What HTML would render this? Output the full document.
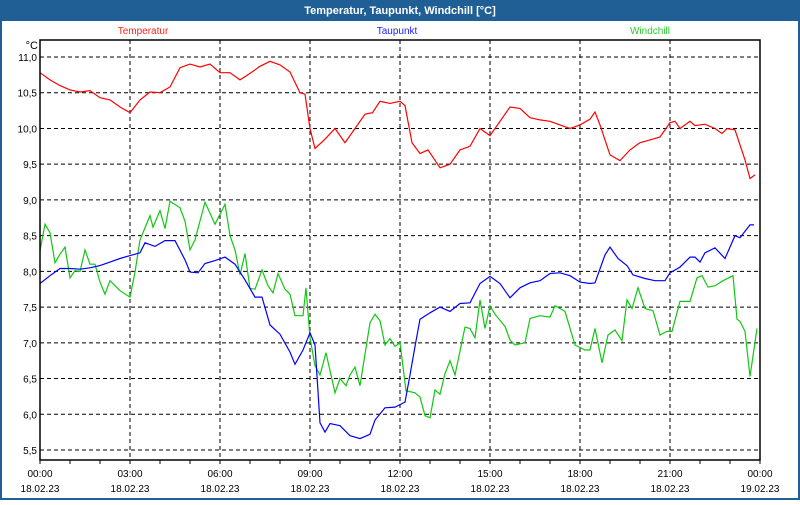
<!DOCTYPE html>
<html><head><meta charset="utf-8"><style>
body{margin:0;width:800px;height:500px;overflow:hidden;background:#fff;font-family:"Liberation Sans",sans-serif}
</style></head><body>
<svg id="c" width="800" height="500" xmlns="http://www.w3.org/2000/svg">
<rect x="0" y="0" width="800" height="500" fill="#1f5f96"/>
<rect x="2" y="21" width="796" height="477" fill="#fff"/>
<text x="400" y="14" text-anchor="middle" font-size="11" font-weight="bold" fill="#fff">Temperatur, Taupunkt, Windchill [°C]</text>
<text x="143" y="34" text-anchor="middle" font-size="10" fill="#ff2020">Temperatur</text>
<text x="397" y="34" text-anchor="middle" font-size="10" fill="#2020ff">Taupunkt</text>
<text x="650" y="34" text-anchor="middle" font-size="10" fill="#30c830">Windchill</text>
<text x="38" y="49" text-anchor="end" font-size="11" fill="#000">°C</text>
<g id="grid"></g><g id="series"></g>
<rect x="40" y="40" width="720" height="420" fill="none" stroke="#000" stroke-width="1.5"/>
<g id="axes"></g>
</svg>
<script>
const yTicks=[11.0,10.5,10.0,9.5,9.0,8.5,8.0,7.5,7.0,6.5,6.0,5.5];
const xTickLabels=["00:00","03:00","06:00","09:00","12:00","15:00","18:00","21:00","00:00"];
const xDateLabels=["18.02.23","18.02.23","18.02.23","18.02.23","18.02.23","18.02.23","18.02.23","18.02.23","19.02.23"];
const tempMin=[0,20,40,60,80,100,120,140,160,180,200,220,240,260,280,300,320,340,360,380,400,420,440,460,480,500,520,530,540,550,570,590,610,630,650,665,680,700,720,730,744,760,776,800,820,840,860,880,900,920,940,960,980,1000,1020,1040,1060,1080,1100,1110,1120,1140,1160,1180,1200,1220,1240,1250,1260,1270,1280,1300,1310,1330,1350,1364,1374,1390,1410,1420,1430];
const tempVal=[10.78,10.68,10.6,10.54,10.51,10.53,10.43,10.4,10.3,10.22,10.4,10.51,10.5,10.58,10.85,10.9,10.86,10.9,10.78,10.78,10.68,10.77,10.87,10.94,10.89,10.79,10.5,10.48,10.0,9.72,9.85,10.0,9.8,10.0,10.2,10.22,10.38,10.35,10.38,10.32,9.8,9.65,9.7,9.45,9.5,9.7,9.75,10.0,9.9,10.1,10.3,10.28,10.15,10.12,10.1,10.05,10.0,10.05,10.13,10.23,10.05,9.63,9.55,9.7,9.8,9.84,9.88,9.98,10.08,10.1,10.0,10.1,10.04,10.06,10.0,9.93,10.0,9.98,9.56,9.3,9.35];
const dewMin=[0,20,40,60,80,100,120,140,160,180,200,210,230,250,270,290,300,316,330,350,370,390,410,430,444,460,480,500,510,526,540,550,560,570,580,600,620,640,660,670,690,710,730,740,750,760,780,800,820,840,860,880,900,920,940,960,980,1000,1020,1040,1060,1080,1100,1110,1130,1140,1156,1174,1186,1210,1230,1250,1260,1280,1300,1310,1320,1330,1350,1370,1390,1400,1420,1428];
const dewVal=[7.83,7.94,8.04,8.04,8.03,8.05,8.08,8.13,8.18,8.22,8.26,8.4,8.35,8.43,8.43,8.16,7.99,7.98,8.11,8.15,8.2,8.1,7.88,7.64,7.64,7.25,7.12,6.87,6.7,6.9,7.14,6.97,5.88,5.75,5.87,5.84,5.7,5.66,5.72,5.92,6.09,6.1,6.17,6.55,6.95,7.33,7.42,7.5,7.44,7.55,7.56,7.83,7.93,7.83,7.63,7.77,7.84,7.87,7.97,7.98,7.94,7.85,7.83,7.84,8.23,8.34,8.18,8.08,7.95,7.9,7.87,7.87,7.98,8.06,8.2,8.2,8.13,8.26,8.33,8.18,8.5,8.47,8.65,8.65];
const windMin=[0,10,20,30,40,50,60,70,80,90,100,110,120,130,140,150,160,180,190,200,220,226,240,250,260,280,290,300,310,330,350,370,380,390,400,410,420,430,444,456,466,476,490,500,510,526,532,540,550,560,572,590,600,612,620,630,640,660,670,680,690,700,710,720,732,750,760,770,780,790,800,810,820,830,850,860,870,880,890,900,910,930,940,950,970,980,1000,1020,1030,1040,1050,1070,1090,1100,1110,1124,1136,1150,1164,1174,1184,1196,1210,1226,1240,1254,1264,1280,1300,1314,1324,1336,1350,1366,1386,1394,1400,1410,1420,1434];
const windVal=[8.29,8.66,8.54,8.12,8.24,8.34,7.91,8.01,8.0,8.3,8.1,8.1,7.85,7.68,7.87,7.8,7.73,7.64,7.99,8.44,8.78,8.62,8.85,8.6,8.98,8.89,8.7,8.3,8.44,8.97,8.66,8.94,8.5,8.3,7.95,8.25,7.76,7.75,8.02,7.8,7.7,7.97,7.75,7.68,7.38,7.38,7.77,7.07,6.68,6.55,6.86,6.3,6.5,6.4,6.55,6.66,6.4,7.28,7.4,7.31,6.97,7.06,6.95,7.0,6.33,6.3,6.24,5.98,5.95,6.34,6.28,6.57,6.75,6.55,7.22,7.2,7.07,7.6,7.2,7.52,7.4,7.23,7.04,6.97,7.0,7.34,7.38,7.36,7.52,7.48,7.44,6.97,6.9,6.9,7.2,6.72,7.11,7.18,7.03,7.6,7.48,7.77,7.48,7.45,7.11,7.16,7.16,7.58,7.58,7.91,7.94,7.78,7.8,7.87,7.94,7.33,7.3,7.16,6.53,7.2];
</script>
<script>
const NS="http://www.w3.org/2000/svg";
const X0=40,X1=760,YTOP=57,YBOT=450;
function xs(min){return X0+min/1440*(X1-X0);}
function ys(v){return YTOP+(11-v)/(11-5.5)*(YBOT-YTOP);}
const grid=document.getElementById('grid'),axes=document.getElementById('axes'),ser=document.getElementById('series');
function mk(tag,attrs,parent){const e=document.createElementNS(NS,tag);for(const k in attrs)e.setAttribute(k,attrs[k]);parent.appendChild(e);return e;}
yTicks.forEach(v=>{
  const l=mk('line',{x1:X0,x2:X1,y1:ys(v),y2:ys(v),stroke:'#000','stroke-dasharray':'4,3'},grid);
  
  
  const t=mk('text',{x:37,y:ys(v)+4,'text-anchor':'end','font-size':'10',fill:'#000'},axes);
  t.textContent=v.toFixed(1).replace('.',',');
  
  
});
xTickLabels.forEach((lab,i)=>{
  const x=xs(i*180);
  if(i>0&&i<8){const l=mk('line',{x1:x,x2:x,y1:40,y2:460,stroke:'#000','stroke-dasharray':'4,3'},grid);
    
    }
  const t=mk('text',{x:x,y:477,'text-anchor':'middle','font-size':'10',fill:'#000'},axes);
  t.textContent=lab;
  
  
  const d=mk('text',{x:x,y:492,'text-anchor':'middle','font-size':'10',fill:'#000'},axes);
  d.textContent=xDateLabels[i];
  
  
});
for(let m=0;m<=1440;m+=60){const tk=mk('line',{x1:xs(m),x2:xs(m),y1:460,y2:464,stroke:'#000'},axes);
  
  }
function line(mins,vals,color,name){
  const n=Math.min(mins.length,vals.length);
  const pts=[];for(let i=0;i<n;i++)pts.push(xs(mins[i]).toFixed(1)+','+ys(vals[i]).toFixed(1));
  const p=mk('polyline',{points:pts.join(' '),fill:'none',stroke:color,'stroke-width':'1.2'},ser);
  
  
}
line(windMin,windVal,'#10c810','windchill-line');
line(dewMin,dewVal,'#0000ff','taupunkt-line');
line(tempMin,tempVal,'#ff0000','temperatur-line');
</script>
</body></html>
